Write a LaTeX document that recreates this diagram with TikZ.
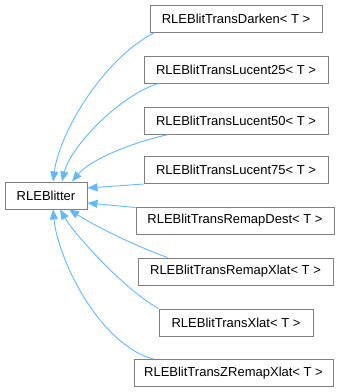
\documentclass[tikz,border=0pt]{standalone}
\usepackage{fontspec}
\setmainfont{Liberation Sans}
\usetikzlibrary{arrows.meta}
\definecolor{edgeblue}{HTML}{63B8FF}
\definecolor{boxgray}{HTML}{808080}
\tikzset{
  cls/.style={draw=boxgray, line width=1pt, fill=white, inner sep=0pt,
    minimum height=27pt, font=\fontsize{13}{15}\selectfont, text=black},
  inherit/.style={draw=edgeblue, line width=0.9pt,
    -{Triangle[length=10pt,width=8pt]}, fill=none},
}
\begin{document}
\begin{tikzpicture}[x=1pt, y=-1pt]
  \useasboundingbox (0,0) rectangle (343,392);

  % base class
  \node[cls, minimum width=82pt] (base) at (46,195.5) {RLEBlitter};

  % derived classes
  \node[cls, minimum width=172pt] (dk)  at (236,18.5)  {RLEBlitTransDarken< T >};
  \node[cls, minimum width=184pt] (l25) at (236,69.5)  {RLEBlitTransLucent25< T >};
  \node[cls, minimum width=184pt] (l50) at (236,120.5) {RLEBlitTransLucent50< T >};
  \node[cls, minimum width=184pt] (l75) at (236,170)   {RLEBlitTransLucent75< T >};
  \node[cls, minimum width=198pt] (rd)  at (235,220.5) {RLEBlitTransRemapDest< T >};
  \node[cls, minimum width=195pt] (rx)  at (235.5,271.5) {RLEBlitTransRemapXlat< T >};
  \node[cls, minimum width=154pt] (xl)  at (236,322.5) {RLEBlitTransXlat< T >};
  \node[cls, minimum width=199pt] (zr)  at (233.5,373) {RLEBlitTransZRemapXlat< T >};

  % inheritance arrows
  \draw[inherit] ([xshift=5pt]dk.south west) .. controls (105,58) and (60,130) .. ([xshift=7pt]base.north);
  \draw[inherit] ([xshift=15pt]l25.south west) .. controls (118,96) and (70,148) .. ([xshift=16pt]base.north);
  \draw[inherit] ([xshift=25pt]l50.south west) .. controls (130,143) and (90,160) .. ([xshift=26pt]base.north);
  \draw[inherit] (l75.south west) -- ([yshift=7.5pt]base.east);
  \draw[inherit] ([yshift=-1pt]rd.north west) -- ([yshift=-7.5pt]base.east);
  \draw[inherit] ([xshift=30pt]rx.north west) .. controls (130,244) and (92,224) .. ([xshift=23pt]base.south);
  \draw[inherit] (xl.north west) .. controls (125,290) and (75,235) .. ([xshift=14pt]base.south);
  \draw[inherit] ([xshift=20pt]zr.north west) .. controls (100,345) and (58,260) .. ([xshift=7pt]base.south);
\end{tikzpicture}
\end{document}
